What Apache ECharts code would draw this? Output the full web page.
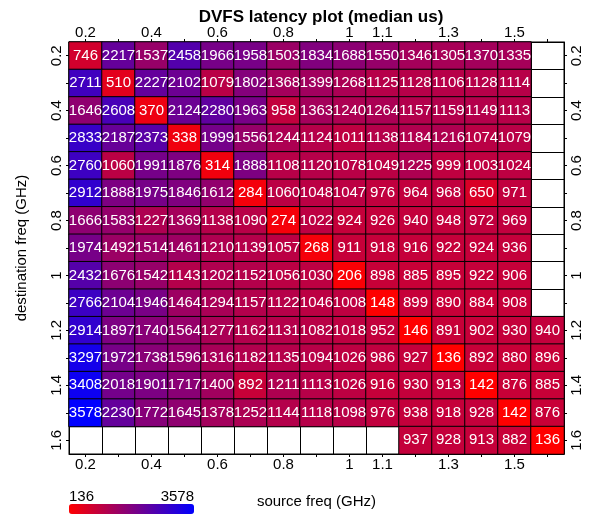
<!DOCTYPE html>
<html>
<head>
<meta charset="utf-8">
<script src="https://cdn.jsdelivr.net/npm/echarts@6/dist/echarts.min.js"></script>
<style>html,body{margin:0;padding:0;background:#fff}#c{width:595px;height:516px}</style>
</head>
<body>
<div id="c"></div>
<script>
const srcFreqs = ['0.2','0.3','0.4','0.5','0.6','0.7','0.8','0.9','1.0','1.1','1.2','1.3','1.4','1.5','1.6'];
const dstFreqs = ['0.2','0.3','0.4','0.5','0.6','0.7','0.8','0.9','1.0','1.1','1.2','1.3','1.4','1.5','1.6'];
const xTickLabels = ['0.2','','0.4','','0.6','','0.8','','1','1.1','','1.3','','1.5',''];
const yTickLabels = ['0.2','','0.4','','0.6','','0.8','','1','','1.2','','1.4','','1.6'];
// rows = destination freq (top to bottom), columns = source freq (left to right); null = no data
const latency = [
  [746,2217,1537,2458,1966,1958,1503,1834,1688,1550,1346,1305,1370,1335,null],
  [2711,510,2227,2102,1079,1802,1368,1399,1268,1125,1128,1106,1128,1114,null],
  [1646,2608,370,2124,2280,1963,958,1363,1240,1264,1157,1159,1149,1113,null],
  [2833,2187,2373,338,1999,1556,1244,1124,1011,1138,1184,1216,1074,1079,null],
  [2760,1060,1991,1876,314,1888,1108,1120,1078,1049,1225,999,1003,1024,null],
  [2912,1888,1975,1846,1612,284,1060,1048,1047,976,964,968,650,971,null],
  [1666,1583,1227,1369,1138,1090,274,1022,924,926,940,948,972,969,null],
  [1974,1492,1514,1461,1210,1139,1057,268,911,918,916,922,924,936,null],
  [2432,1676,1542,1143,1202,1152,1056,1030,206,898,885,895,922,906,null],
  [2766,2104,1946,1464,1294,1157,1122,1046,1008,148,899,890,884,908,null],
  [2914,1897,1740,1564,1277,1162,1131,1082,1018,952,146,891,902,930,940],
  [3297,1972,1738,1596,1316,1182,1135,1094,1026,986,927,136,892,880,896],
  [3408,2018,1901,1717,1400,892,1211,1113,1026,916,930,913,142,876,885],
  [3578,2230,1772,1645,1378,1252,1144,1118,1098,976,938,918,928,142,876],
  [null,null,null,null,null,null,null,null,null,null,937,928,913,882,136]
];

const cells = [];
let vmin = Infinity, vmax = -Infinity;
latency.forEach((row, yi) => row.forEach((v, xi) => {
  if (v !== null) {
    cells.push([xi, yi, v]);
    vmin = Math.min(vmin, v); vmax = Math.max(vmax, v);
  }
}));

const FONT = '"Liberation Sans", Arial, sans-serif';
const chart = echarts.init(document.getElementById('c'), null, {renderer: 'canvas'});
const G = {left: 69, right: 31, top: 42, bottom: 62};

const xBase = {
  type: 'category', data: srcFreqs, boundaryGap: true,
  axisLine: {show: true, lineStyle: {color: '#000', width: 1}},
  axisTick: {show: true, alignWithLabel: true, length: 3, lineStyle: {color: '#000'}},
  axisLabel: {interval: 0, color: '#000', fontSize: 15, fontFamily: FONT, margin: 3,
    formatter: (v, i) => xTickLabels[i]},
  splitLine: {show: true, interval: 0, lineStyle: {color: '#000', width: 1}}
};
const yBase = {
  type: 'category', data: dstFreqs, inverse: true, boundaryGap: true,
  axisLine: {show: true, lineStyle: {color: '#000', width: 1}},
  axisTick: {show: true, alignWithLabel: true, length: 3, lineStyle: {color: '#000'}},
  axisLabel: {interval: 0, color: '#000', fontSize: 15, fontFamily: FONT, margin: 5, rotate: 90,
    formatter: (v, i) => yTickLabels[i]},
  splitLine: {show: true, interval: 0, lineStyle: {color: '#000', width: 1}}
};

chart.setOption({
  backgroundColor: '#fff',
  animation: false,
  title: {
    text: 'DVFS latency plot (median us)',
    left: 316, top: 4, textAlign: 'center',
    textStyle: {fontSize: 17, fontWeight: 'bold', color: '#000', fontFamily: FONT}
  },
  grid: Object.assign({backgroundColor: '#fff', show: true, borderColor: '#000', borderWidth: 1}, G),
  xAxis: [
    Object.assign({}, xBase, {position: 'bottom', name: 'source freq (GHz)', nameLocation: 'middle', nameGap: 40,
      nameTextStyle: {fontSize: 15, color: '#000', fontFamily: FONT}}),
    Object.assign({}, xBase, {position: 'top', splitLine: {show: false},
      axisLabel: Object.assign({}, xBase.axisLabel, {margin: 2})})
  ],
  yAxis: [
    Object.assign({}, yBase, {position: 'left', name: 'destination freq (GHz)', nameLocation: 'middle', nameGap: 40,
      nameRotate: 90, nameTextStyle: {fontSize: 15, color: '#000', fontFamily: FONT}}),
    Object.assign({}, yBase, {position: 'right', splitLine: {show: false}})
  ],
  visualMap: {
    type: 'continuous', min: vmin, max: vmax, seriesIndex: 0,
    orient: 'horizontal', left: 69, top: 504, itemWidth: 10, itemHeight: 125,
    padding: 0, calculable: false, text: null, showLabel: false,
    inRange: {color: ['#ff0000', '#0000ff']}
  },
  graphic: [
    {type: 'text', left: 69, top: 489, style: {text: String(vmin), font: '15px ' + FONT, fill: '#000'}},
    {type: 'text', right: 595 - 194, top: 489, style: {text: String(vmax), font: '15px ' + FONT, fill: '#000', textAlign: 'right'}}
  ],
  series: [{
    type: 'heatmap', xAxisIndex: 0, yAxisIndex: 0, data: cells,
    itemStyle: {borderColor: '#000', borderWidth: 1},
    label: {show: true, color: '#fff', fontSize: 15, fontFamily: FONT},
    emphasis: {disabled: true}
  }]
});
</script>
</body>
</html>
